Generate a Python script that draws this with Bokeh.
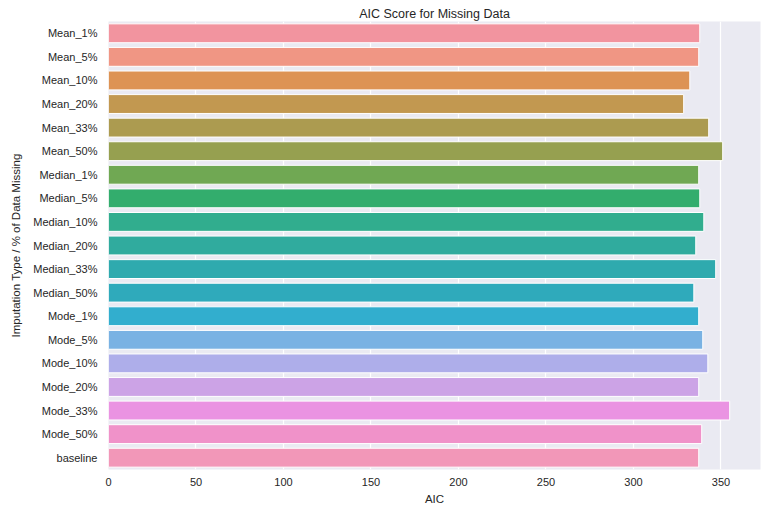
from bokeh.plotting import figure
from bokeh.models import FactorRange, Range1d, ColumnDataSource, FixedTicker
from bokeh.embed import file_html
from bokeh.resources import INLINE

categories = ["Mean_1%", "Mean_5%", "Mean_10%", "Mean_20%", "Mean_33%", "Mean_50%",
              "Median_1%", "Median_5%", "Median_10%", "Median_20%", "Median_33%", "Median_50%",
              "Mode_1%", "Mode_5%", "Mode_10%", "Mode_20%", "Mode_33%", "Mode_50%", "baseline"]
aic = [337.9, 337.3, 332.2, 328.7, 343.0, 351.0,
       337.3, 337.9, 340.2, 335.6, 347.0, 334.5,
       337.3, 339.6, 342.5, 337.3, 355.0, 339.0, 337.3]
colors = ["#f2949f", "#f09684", "#dd9354", "#c29850", "#ac9b50", "#96a050",
          "#70a853", "#33ad6d", "#31ad8e", "#30ab9e", "#2faaae", "#2faabb",
          "#32aece", "#79b2e3", "#aeaeea", "#cca3e6", "#ea93e2", "#f092c9", "#f297b8"]
x_ticks = [0, 50, 100, 150, 200, 250, 300, 350]

FONT = "Liberation Sans"
TXT = "#262626"

src = ColumnDataSource(dict(cat=categories, val=aic, color=colors))

p = figure(
    y_range=FactorRange(factors=list(reversed(categories))),
    x_range=Range1d(0, 372.6),
    width=776, height=510,
    min_border_left=108, min_border_right=16, min_border_top=21, min_border_bottom=41,
    output_backend="svg", toolbar_location=None,
    title="AIC Score for Missing Data",
)
p.hbar(y="cat", right="val", left=0, height=0.8, fill_color="color",
       line_color="white", line_width=1, source=src)

p.background_fill_color = "#eaeaf2"
p.border_fill_color = "white"
p.outline_line_color = None
p.ygrid.grid_line_color = None
p.xgrid.grid_line_color = "white"
p.xgrid.grid_line_width = 1.2
p.xaxis.ticker = FixedTicker(ticks=x_ticks)

p.title.align = "center"
p.title.text_font = FONT
p.title.text_font_size = "12.5px"
p.title.text_font_style = "normal"
p.title.text_color = TXT
p.title.standoff = 2
p.title.offset = 0

for ax in (p.xaxis, p.yaxis):
    ax.axis_line_color = None
    ax.major_tick_line_color = None
    ax.minor_tick_line_color = None
    ax.major_tick_out = 0
    ax.major_tick_in = 0
    ax.major_label_text_font = FONT
    ax.major_label_text_font_size = "11px"
    ax.major_label_text_color = TXT
    ax.axis_label_text_font = FONT
    ax.axis_label_text_font_size = "11.5px"
    ax.axis_label_text_font_style = "normal"
    ax.axis_label_text_color = TXT

p.xaxis.axis_label = "AIC"
p.yaxis.axis_label = "Imputation Type / % of Data Missing"
p.xaxis.major_label_standoff = 8
p.yaxis.major_label_standoff = 11
p.xaxis.axis_label_standoff = 4
p.yaxis.axis_label_standoff = 8

open("out.html", "w").write(file_html(p, INLINE))
